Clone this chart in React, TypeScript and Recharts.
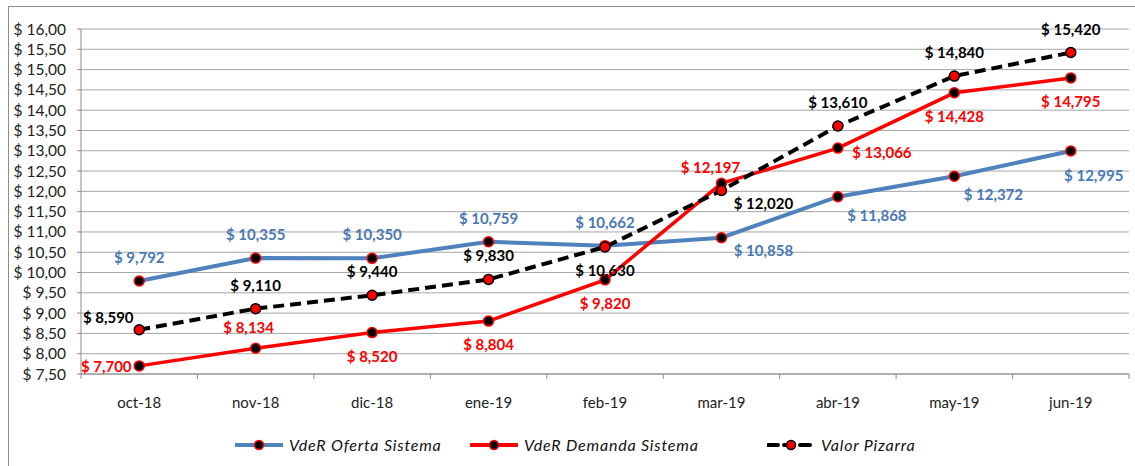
import { LineChart, Line, XAxis, YAxis, CartesianGrid, LabelList } from "recharts";

// categories + series
const months = ["oct-18", "nov-18", "dic-18", "ene-19", "feb-19", "mar-19", "abr-19", "may-19", "jun-19"];
const oferta = [9.792, 10.355, 10.35, 10.759, 10.662, 10.858, 11.868, 12.372, 12.995];
const demanda = [7.7, 8.134, 8.52, 8.804, 9.82, 12.197, 13.066, 14.428, 14.795];
const pizarra = [8.59, 9.11, 9.44, 9.83, 10.63, 12.02, 13.61, 14.84, 15.42];
const yTicks = [7.5, 8, 8.5, 9, 9.5, 10, 10.5, 11, 11.5, 12, 12.5, 13, 13.5, 14, 14.5, 15, 15.5, 16];

// where each data label sits relative to its point
const ofertaPlace = ["top", "top", "top", "top", "top", "br", "br2", "br2", "brj"];
const demandaPlace = ["left", "topsh", "bottom", "bottom", "bottom", "topnear", "right", "bottom", "bottom"];
const pizarraPlace = ["topleft", "top", "top", "top", "bottom", "br", "top", "top", "top"];

const rows = months.map((m, i) => ({
  month: m,
  oferta: oferta[i],
  demanda: demanda[i],
  pizarra: pizarra[i],
}));

const W = 1135;
const H = 466;
const PLOT_LEFT = 81;
const PLOT_RIGHT = 1129;
const BAND = (PLOT_RIGHT - PLOT_LEFT) / months.length;
const FONT = "Lato, 'Open Sans', sans-serif";
const BLUE = "#4F81BD";
const BLUE_TXT = "#4A78B2";
const RED = "#FF0000";

const OFFSETS: Record<string, { dx: number; dy: number }> = {
  top: { dx: 0, dy: -24 },
  topsh: { dx: -7, dy: -21 },
  bottom: { dx: 0, dy: 23 },
  br: { dx: 42, dy: 12 },
  br2: { dx: 39, dy: 18 },
  brj: { dx: 23, dy: 24 },
  left: { dx: -33, dy: 0 },
  topleft: { dx: -31, dy: -13 },
  topnear: { dx: -11, dy: -16 },
  right: { dx: 44, dy: 4 },
};

const fmtVal = (v: number) => `$ ${v.toFixed(3).replace(".", ",")}`;
const fmtTick = (v: number) => `$ ${v.toFixed(2).replace(".", ",")}`;

function makeLabel(place: string[], color: string) {
  return (p: any) => {
    const o = OFFSETS[place[p.index]] ?? OFFSETS.top;
    return (
      <text
        x={p.x + o.dx}
        y={p.y + o.dy}
        textAnchor="middle"
        dominantBaseline="central"
        fill={color}
        fontFamily={FONT}
        fontWeight={700}
        fontSize={15}
      >
        {fmtVal(p.value)}
      </text>
    );
  };
}

function makeDot(fill: string, stroke: string) {
  return (p: any) => (
    <circle key={p.index} cx={p.cx} cy={p.cy} r={5} fill={fill} stroke={stroke} strokeWidth={1.5} />
  );
}

// Excel-style ticks sit on the category boundaries, not on the centres
function XTick(props: any) {
  const { x, y, payload, index } = props;
  const left = x - BAND / 2;
  return (
    <g>
      <line x1={left} y1={y} x2={left} y2={y + 5} stroke="#8c8c8c" />
      {index === months.length - 1 && (
        <line x1={x + BAND / 2} y1={y} x2={x + BAND / 2} y2={y + 5} stroke="#8c8c8c" />
      )}
      <text x={x} y={y + 28} textAnchor="middle" dominantBaseline="central" fill="#222" fontFamily={FONT} fontSize={15}>
        {payload.value}
      </text>
    </g>
  );
}

function LegendSwatch({ color, dashed, dotFill, dotStroke }: { color: string; dashed?: boolean; dotFill: string; dotStroke: string }) {
  return (
    <svg width={48} height={14} style={{ display: "block" }}>
      <line
        x1={1}
        y1={7}
        x2={47}
        y2={7}
        stroke={color}
        strokeWidth={4}
        strokeDasharray={dashed ? "10 6" : undefined}
        strokeLinecap="round"
      />
      <circle cx={24} cy={7} r={4.5} fill={dotFill} stroke={dotStroke} strokeWidth={1.5} />
    </svg>
  );
}

const legendItems = [
  { name: "VdeR Oferta Sistema", color: BLUE, dashed: false, dotFill: "#000", dotStroke: RED, left: 235 },
  { name: "VdeR Demanda Sistema", color: RED, dashed: false, dotFill: "#000", dotStroke: RED, left: 470 },
  { name: "Valor Pizarra", color: "#000", dashed: true, dotFill: RED, dotStroke: "#000", left: 767 },
];

export default function App() {
  return (
    <div style={{ position: "absolute", left: 0, top: 0, width: W, height: H, overflow: "hidden", background: "#fff" }}>
      <div
        style={{
          position: "absolute",
          left: 8,
          top: 6,
          width: W + 10,
          height: H + 10,
          border: "1px solid #8c8c8c",
        }}
      />
      <LineChart width={W} height={H} data={rows} margin={{ top: 29, right: W - PLOT_RIGHT, left: 0, bottom: 52 }}>
        <CartesianGrid vertical={false} stroke="#a6a6a6" strokeWidth={1} />
        <XAxis
          dataKey="month"
          height={40}
          padding={{ left: BAND / 2, right: BAND / 2 }}
          axisLine={{ stroke: "#8c8c8c" }}
          tickLine={false}
          tickSize={0}
          tickMargin={0}
          tick={<XTick />}
          interval={0}
        />
        <YAxis
          width={PLOT_LEFT}
          domain={[7.5, 16]}
          ticks={yTicks}
          interval={0}
          axisLine={{ stroke: "#8c8c8c" }}
          tickLine={{ stroke: "#8c8c8c" }}
          tickSize={4}
          tickMargin={11}
          tickFormatter={fmtTick}
          tick={{ fill: "#222", fontFamily: FONT, fontSize: 15.5 }}
        />
        <Line
          dataKey="oferta"
          stroke={BLUE}
          strokeWidth={4}
          dot={makeDot("#000", RED)}
          activeDot={false}
          isAnimationActive={false}
        >
          <LabelList dataKey="oferta" content={makeLabel(ofertaPlace, BLUE_TXT)} />
        </Line>
        <Line
          dataKey="demanda"
          stroke={RED}
          strokeWidth={3.5}
          dot={makeDot("#000", RED)}
          activeDot={false}
          isAnimationActive={false}
        >
          <LabelList dataKey="demanda" content={makeLabel(demandaPlace, RED)} />
        </Line>
        <Line
          dataKey="pizarra"
          stroke="#000"
          strokeWidth={4}
          strokeDasharray="11 6"
          dot={makeDot(RED, "#000")}
          activeDot={false}
          isAnimationActive={false}
        >
          <LabelList dataKey="pizarra" content={makeLabel(pizarraPlace, "#000")} />
        </Line>
      </LineChart>
      {legendItems.map((it) => (
        <div
          key={it.name}
          style={{ position: "absolute", left: it.left, top: 437, display: "flex", alignItems: "center", gap: 6 }}
        >
          <LegendSwatch color={it.color} dashed={it.dashed} dotFill={it.dotFill} dotStroke={it.dotStroke} />
          <span style={{ fontFamily: FONT, fontStyle: "italic", fontSize: 16, letterSpacing: 0.8, color: "#111", lineHeight: "16px" }}>
            {it.name}
          </span>
        </div>
      ))}
    </div>
  );
}
